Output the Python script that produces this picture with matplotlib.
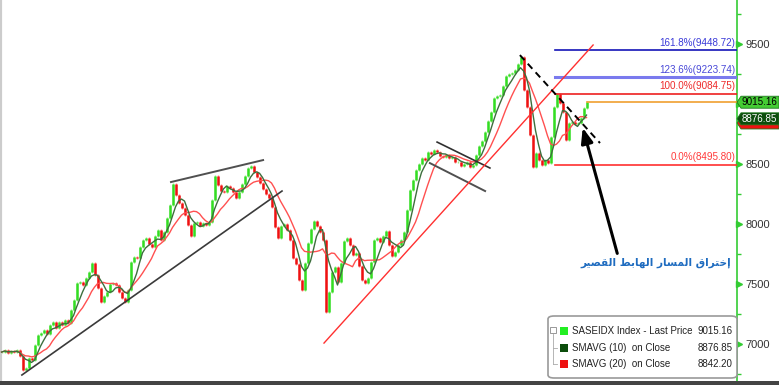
import numpy as np
import pandas as pd
import matplotlib
matplotlib.use("Agg")
import matplotlib.pyplot as plt
import matplotlib.transforms as mtransforms
from matplotlib.patches import FancyBboxPatch, Rectangle, Polygon

plt.rcParams["font.family"] = ["Liberation Sans", "DejaVu Sans"]

W, H = 779, 385

# closes (one point per ~3 px, roughly two sessions each)
closes = [
    6933, 6950, 6925, 6942, 6933, 6950, 6900, 6783, 6800, 6883, 6867, 6992,
    7075, 7092, 7117, 7083, 7158, 7183, 7133, 7183, 7158, 7200, 7175, 7283,
    7367, 7508, 7517, 7492, 7550, 7600, 7675, 7575, 7467, 7350, 7400, 7433,
    7500, 7508, 7492, 7433, 7383, 7350, 7450, 7683, 7725, 7717, 7808, 7867,
    7883, 7833, 7808, 7900, 7950, 7867, 7933, 8050, 8158, 8333, 8242, 8175,
    8133, 8075, 7992, 7900, 8008, 8017, 7983, 8008, 7992, 8017, 8200, 8400,
    8325, 8275, 8267, 8317, 8300, 8267, 8217, 8267, 8333, 8400, 8467, 8483,
    8433, 8392, 8342, 8292, 8250, 8217, 8142, 7975, 7883, 7983, 8000, 7950,
    7867, 7717, 7667, 7533, 7450, 7675, 7842, 7958, 8025, 7983, 7933, 7867,
    7267, 7433, 7600, 7642, 7517, 7675, 7858, 7883, 7825, 7742, 7758, 7650,
    7533, 7508, 7550, 7683, 7867, 7883, 7850, 7900, 7942, 7825, 7733, 7767,
    7825, 7867, 7933, 8117, 8283, 8367, 8450, 8500, 8550, 8533, 8600, 8583,
    8617, 8600, 8567, 8558, 8575, 8550, 8558, 8517, 8517, 8483, 8500, 8517,
    8475, 8492, 8575, 8650, 8692, 8767, 8858, 8933, 9050, 9067, 9075, 9150,
    9233, 9250, 9258, 9283, 9333, 9390, 9117, 8975, 8742, 8475, 8592, 8533,
    8492, 8533, 8508, 8725, 8975, 9085, 9008, 8933, 8700, 8842, 8850, 8833,
    8842, 8883, 8967, 9015.16,
]

fib_levels = [9448.72, 9223.74, 9084.75, 8495.80]
fib_names = ["161.8%", "123.6%", "100.0%", "0.0%"]
fib_colors = ["#1414b8", "#7a7aee", "#ee2020", "#ff3030"]
fib_text_colors = ["#3a3ad8", "#4848d8", "#ee2a2a", "#ff3a3a"]
fib_widths = [1.2, 2.2, 1.2, 1.2]

yticks = [7000, 7500, 8000, 8500, 9000, 9500]
# the 9000 label sits under the last-price tag in the picture
ytick_labels = ["7000", "7500", "8000", "8500", "", "9500"]
last_price = 9015.16
sma10_last = 8876.85
sma20_last = 8842.20

legend_labels = ["SASEIDX Index - Last Price", "SMAVG (10)  on Close", "SMAVG (20)  on Close"]
legend_values = ["9015.16", "8876.85", "8842.20"]
legend_colors = ["#22ee22", "#0b4d0b", "#ee1111"]

note_text = "إختراق المسار الهابط القصير"

# drawn lines, as (bar index, price) end points
support_line = [(6.8, 6742), (93.5, 8275)]
top_line = [(56.5, 8350), (87.2, 8533)]
red_trend = [(107.5, 7008), (197.2, 9492)]
flag_top = [(145.2, 8683), (162.8, 8467)]
flag_bottom = [(142.8, 8508), (161.2, 8275)]
down_dashed = [(172.8, 9408), (199.5, 8675)]
arrow_tail = (205.5, 7733)
arrow_head = (193.5, 8825)
fib_start = 184.5


def shape_arabic(s):
    # contextual forms: iso, fin, ini, med (None = joins only to the right)
    forms = {
        "\u0627": (0xFE8D, 0xFE8E, None, None),
        "\u0625": (0xFE87, 0xFE88, None, None),
        "\u062E": (0xFEA5, 0xFEA6, 0xFEA7, 0xFEA8),
        "\u062A": (0xFE95, 0xFE96, 0xFE97, 0xFE98),
        "\u0631": (0xFEAD, 0xFEAE, None, None),
        "\u0642": (0xFED5, 0xFED6, 0xFED7, 0xFED8),
        "\u0644": (0xFEDD, 0xFEDE, 0xFEDF, 0xFEE0),
        "\u0645": (0xFEE1, 0xFEE2, 0xFEE3, 0xFEE4),
        "\u0633": (0xFEB1, 0xFEB2, 0xFEB3, 0xFEB4),
        "\u0647": (0xFEE9, 0xFEEA, 0xFEEB, 0xFEEC),
        "\u0628": (0xFE8F, 0xFE90, 0xFE91, 0xFE92),
        "\u0637": (0xFEC1, 0xFEC2, 0xFEC3, 0xFEC4),
        "\u0635": (0xFEB9, 0xFEBA, 0xFEBB, 0xFEBC),
        "\u064A": (0xFEF1, 0xFEF2, 0xFEF3, 0xFEF4),
    }
    out = []
    for i, c in enumerate(s):
        if c not in forms:
            out.append(c)
            continue
        iso, fin, ini, med = forms[c]
        prev = s[i - 1] if i > 0 else ""
        nxt = s[i + 1] if i + 1 < len(s) else ""
        pj = prev in forms and forms[prev][2] is not None
        nj = nxt in forms and ini is not None
        if pj and nj:
            code = med
        elif pj:
            code = fin
        elif nj:
            code = ini
        else:
            code = iso
        out.append(chr(code))
    return "".join(out)[::-1]


def px(x, y):
    return x / W, 1 - y / H


closes = np.array(closes, dtype=float)
idx = np.arange(len(closes))
opens = np.concatenate(([closes[0]], closes[:-1]))
s = pd.Series(closes)
sma10 = s.rolling(5, min_periods=1).mean()
sma20 = s.rolling(10, min_periods=1).mean()

fig = plt.figure(figsize=(W / 100, H / 100), dpi=100)
fig.patch.set_facecolor("white")
ax = fig.add_axes([0, 4 / H, 737 / W, 1 - 4 / H])
ax.set_xlim(-0.5, 737 / 3 - 0.5)
ax.set_ylim(6692, 9867)

# bars
up = closes >= opens
bar_col = np.where(up, "#33dd22", "#ee1111")
ax.vlines(idx, np.minimum(opens, closes) - 8, np.maximum(opens, closes) + 8,
          colors=np.where(up, "#99ee88", "#ff8888"), lw=1.0, zorder=2)
ax.vlines(idx, np.minimum(opens, closes), np.maximum(opens, closes),
          colors=bar_col, lw=1.8, zorder=3)

ax.plot(idx, sma20, color="#ff5050", lw=1.0, zorder=4)
ax.plot(idx, sma10, color="#3d6f3d", lw=1.0, zorder=5)

# drawn trend lines
for seg, col, lw in [(support_line, "#3a3a3a", 1.2), (top_line, "#505050", 1.4),
                     (flag_top, "#303030", 1.2), (flag_bottom, "#505050", 1.4)]:
    ax.plot([seg[0][0], seg[1][0]], [seg[0][1], seg[1][1]], color=col, lw=lw, zorder=6)
ax.plot([red_trend[0][0], red_trend[1][0]], [red_trend[0][1], red_trend[1][1]],
        color="#ff3030", lw=1.0, zorder=6, clip_on=False)
ax.plot([down_dashed[0][0], down_dashed[1][0]], [down_dashed[0][1], down_dashed[1][1]],
        color="black", lw=1.4, ls=(0, (3.5, 2.5)), zorder=6)
ax.annotate("", xy=arrow_head, xytext=arrow_tail,
            arrowprops=dict(arrowstyle="-|>,head_length=0.9,head_width=0.35",
                            color="black", lw=2.2), zorder=7)

# fibonacci levels
xr = ax.get_xlim()[1]
for lvl, name, col, tcol, lw in zip(fib_levels, fib_names, fib_colors, fib_text_colors, fib_widths):
    ax.plot([fib_start, xr], [lvl, lvl], color=col, lw=lw, zorder=4)
    ax.text(xr - 0.6, lvl + 22, f"{name}({lvl:.2f})", color=tcol, fontsize=7.1,
            ha="right", va="bottom", zorder=8)
ax.plot([idx[-1], xr], [last_price, last_price], color="#f0a030", lw=1.2, zorder=4)

tr = mtransforms.blended_transform_factory(ax.transAxes, ax.transData)
ax.text(656 / 737, 7680, shape_arabic(note_text), color="#1f6cc0",
        fontsize=7.6, fontweight="bold", ha="center", va="center",
        family=["DejaVu Sans"], transform=tr)

# right axis
for sp in ["top", "bottom"]:
    ax.spines[sp].set_visible(False)
ax.spines["left"].set_color("#cccccc")
ax.spines["left"].set_linewidth(3)
ax.spines["right"].set_color("#33cc33")
ax.spines["right"].set_linewidth(1.2)
ax.set_xticks([])
ax.yaxis.tick_right()
ax.set_yticks(yticks)
ax.set_yticklabels(ytick_labels)
ax.set_yticks(np.arange(6750, 9867, 250), minor=True)
ax.tick_params(axis="y", which="major", length=0, pad=6, labelsize=8, labelcolor="#333333")
ax.tick_params(axis="y", which="minor", length=3, color="#33cc33", width=1)
ax.plot([1.003] * len(yticks), yticks, ">", color="#33cc33", ms=4, transform=tr, clip_on=False)

# price tags at the axis (arrow-shaped boxes, drawn in pixels)
ident = mtransforms.IdentityTransform()
for val, fc, tc, label in [(sma20_last, "#ee1111", None, False),
                           (sma10_last, "#0d4d0d", "white", True),
                           (last_price, "#44cc33", "black", True)]:
    yc = ax.transData.transform((0, val))[1]
    tag = Polygon([(737, yc), (741, yc + 6), (779, yc + 6), (779, yc - 6), (741, yc - 6)],
                  closed=True, transform=ident, fc=fc, ec="#1f7a1f", lw=0.6, zorder=10)
    fig.patches.append(tag)
    if label:
        fig.text(742 / W, yc / H, f"{val:.2f}", fontsize=7.1, color=tc,
                 ha="left", va="center", zorder=11)

# bottom bar
fig.patches.append(Rectangle((0, 0), 1, 4 / H, transform=fig.transFigure,
                             fc="#444444", ec="none", zorder=10))

# legend box
x0, y0 = px(548, 378)
x1, y1 = px(737, 316)
fig.patches.append(FancyBboxPatch((x0, y0), x1 - x0, y1 - y0, transform=fig.transFigure,
                                  boxstyle="round,pad=0,rounding_size=0.008",
                                  fc="white", ec="#999999", lw=1.2, zorder=11))
bx, by = px(553, 330)
fig.patches.append(Rectangle((bx - 3 / W, by - 3 / H), 6 / W, 6 / H, transform=fig.transFigure,
                             fc="white", ec="#888888", lw=0.6, zorder=12))
fig.lines.append(plt.Line2D([px(553, 0)[0]] * 2, [px(0, 334)[1], px(0, 364)[1]],
                            transform=fig.transFigure, color="#aaaaaa", lw=0.6, zorder=12))
for k, (lab, val, col) in enumerate(zip(legend_labels, legend_values, legend_colors)):
    ry = [331, 348, 364][k]
    sx, sy = px(560, ry + 4)
    fig.patches.append(Rectangle((sx, sy), 8 / W, 8 / H, transform=fig.transFigure,
                                 fc=col, ec="none", zorder=12))
    if k > 0:
        fig.lines.append(plt.Line2D([px(553, 0)[0], px(557, 0)[0]], [px(0, ry)[1]] * 2,
                                    transform=fig.transFigure, color="#aaaaaa", lw=0.6, zorder=12))
    tx, ty = px(572, ry)
    fig.text(tx, ty, lab, fontsize=7.0, color="#222222", va="center", ha="left", zorder=13)
    vx, _ = px(733, ry)
    fig.text(vx, ty, val, fontsize=7.0, color="#222222", va="center", ha="right", zorder=13)

fig.savefig("out.png", dpi=100)
